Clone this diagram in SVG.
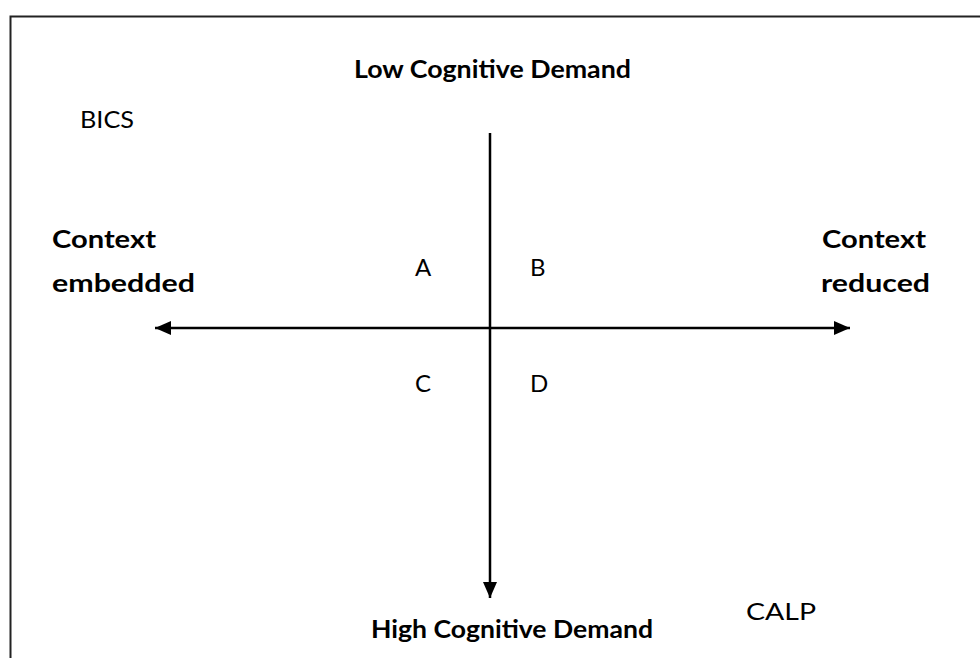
<svg xmlns="http://www.w3.org/2000/svg" width="980" height="658" viewBox="0 0 980 658">
<style>
text{font-family:Lato,"Liberation Sans",sans-serif;fill:#000;font-size:24px}
.b{font-weight:bold}
.ax{stroke:#000;stroke-width:2.5;fill:none}
</style>
<defs>
<marker id="ah" viewBox="0 0 16 14" refX="16" refY="7" markerWidth="16" markerHeight="14" markerUnits="userSpaceOnUse" orient="auto">
<path d="M0,0 L16,7 L0,14 Z" fill="#000"/>
</marker>
</defs>
<rect width="980" height="658" fill="#fff"/>
<g id="frame">
<path d="M10.5,660 V16.5 H980" fill="none" stroke="#222" stroke-width="2"/>
</g>
<g id="connectors">
<line class="ax" x1="490" y1="133" x2="490" y2="598" marker-end="url(#ah)"/>
<line class="ax" x1="490" y1="328" x2="155" y2="328" marker-end="url(#ah)"/>
<line class="ax" x1="490" y1="328" x2="850" y2="328" marker-end="url(#ah)"/>
</g>
<g id="top"><text class="b" x="354" y="78" textLength="277" lengthAdjust="spacingAndGlyphs">Low Cognitive Demand</text></g>
<g id="bottom"><text class="b" x="371" y="638" textLength="282" lengthAdjust="spacingAndGlyphs">High Cognitive Demand</text></g>
<g id="left"><text class="b" x="52" y="248" textLength="104" lengthAdjust="spacingAndGlyphs">Context</text><text class="b" x="52" y="292" textLength="143" lengthAdjust="spacingAndGlyphs">embedded</text></g>
<g id="right"><text class="b" x="822" y="248" textLength="104" lengthAdjust="spacingAndGlyphs">Context</text><text class="b" x="821" y="292" textLength="109" lengthAdjust="spacingAndGlyphs">reduced</text></g>
<g id="bics"><text x="80" y="128" textLength="54" lengthAdjust="spacingAndGlyphs">BICS</text></g>
<g id="calp"><text x="746" y="620" textLength="70" lengthAdjust="spacingAndGlyphs">CALP</text></g>
<g id="qa"><text x="415" y="276">A</text></g>
<g id="qb"><text x="530" y="276">B</text></g>
<g id="qc"><text x="415" y="392">C</text></g>
<g id="qd"><text x="530" y="392">D</text></g>
</svg>
